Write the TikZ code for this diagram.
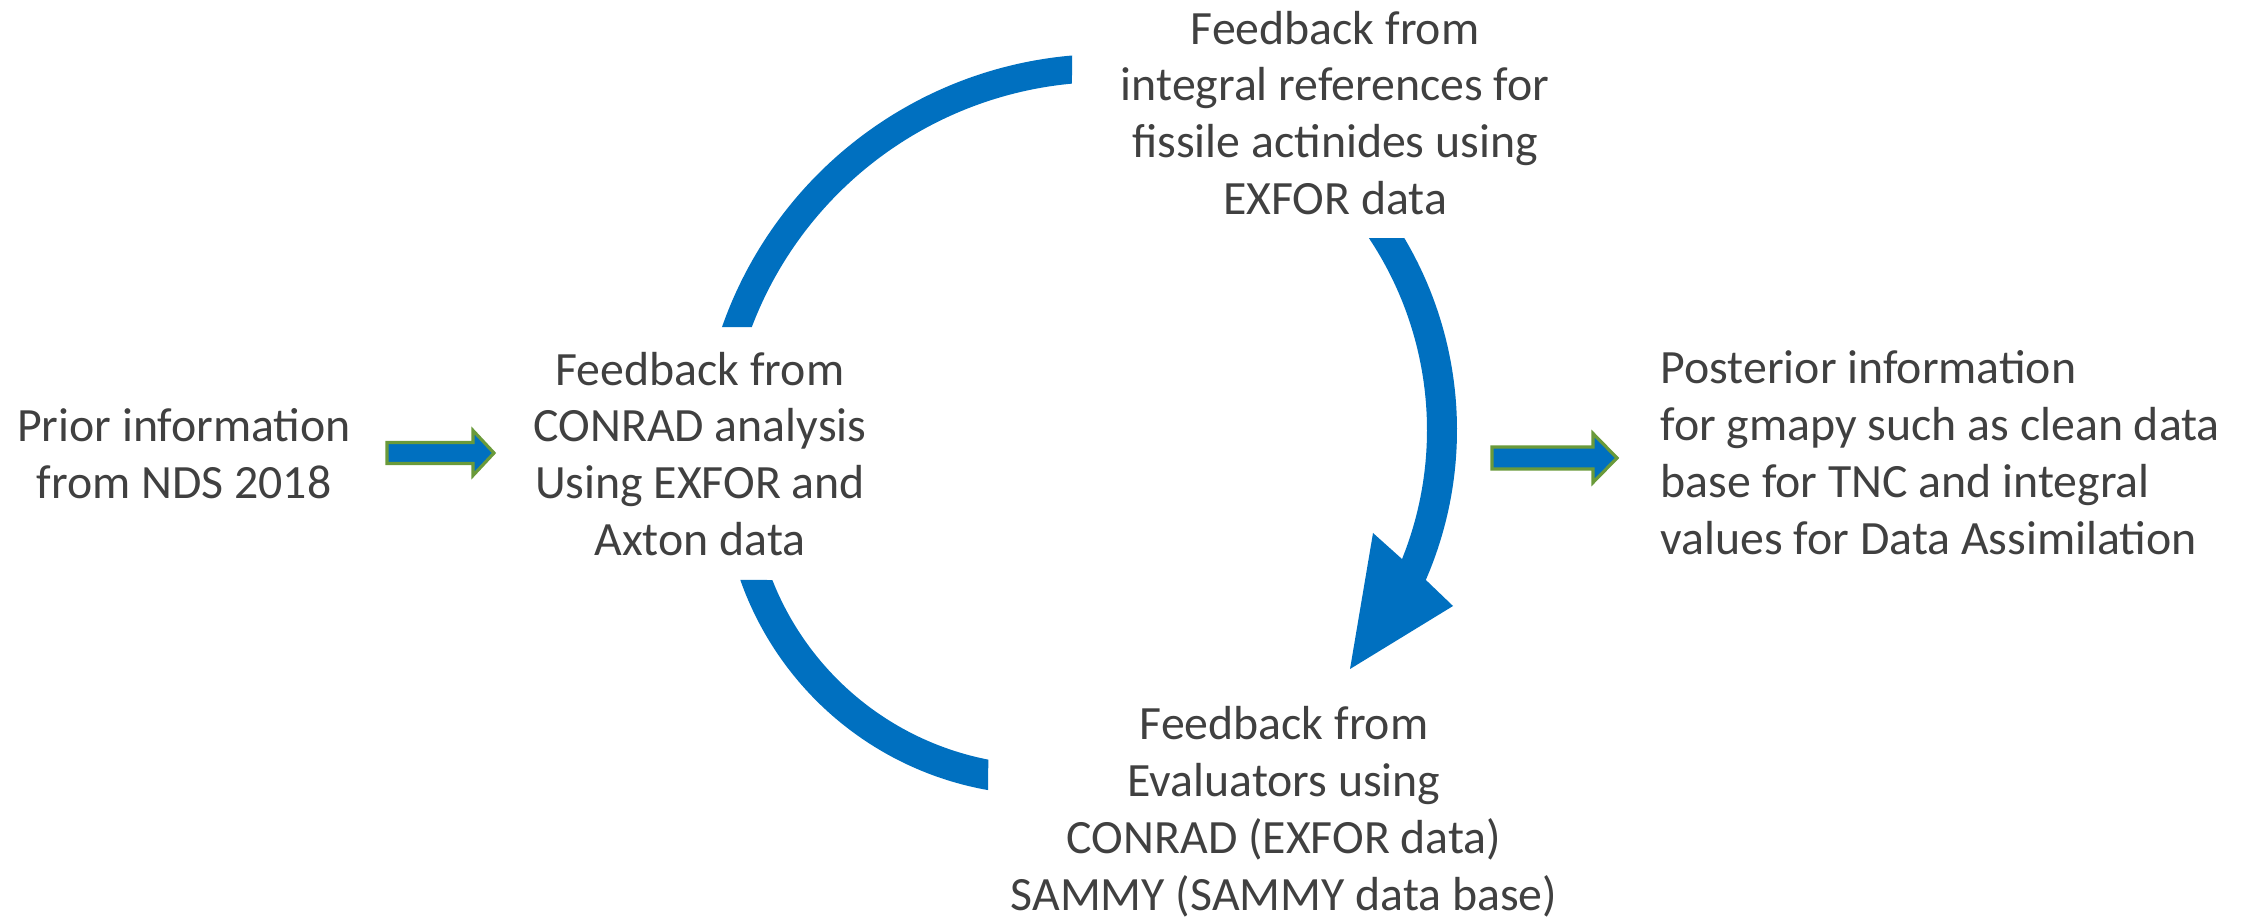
\documentclass[tikz,border=0pt]{standalone}
\usepackage{fontspec}
\setmainfont{Carlito}
\usepackage{xcolor}
\usepackage{tikz}
\definecolor{cycblue}{RGB}{0,112,192}
\definecolor{arrgreen}{RGB}{106,154,58}
\definecolor{txtgray}{RGB}{64,64,64}

\begin{document}
\begin{tikzpicture}[
  txt/.style={inner sep=0pt, align=center, text=txtgray,
              font=\fontsize{13.6pt}{16.2pt}\selectfont},
  band/.style={fill=cycblue, draw=none},
  fatarr/.style={fill=cycblue, draw=arrgreen, line width=0.9pt, line join=miter}
]
  \useasboundingbox (0,0) rectangle (22.5,-9.19);

  \node[txt] (prior) at (1.84,-4.535) {Prior information\\from NDS 2018};
  \node[txt] (conrad) at (7.00,-4.54) {Feedback from\\CONRAD analysis\\Using EXFOR and\\Axton data};
  \node[txt] (integral) at (13.35,-1.13) {Feedback from\\integral references for\\fissile actinides using\\EXFOR data};
  \node[txt] (evaluators) at (12.84,-8.12) {Feedback from\\Evaluators using\\CONRAD (EXFOR data)\\SAMMY (SAMMY data base)};
  \node[txt, align=left, anchor=west] (posterior) at (16.60,-4.53) {Posterior information\\for gmapy such as clean data\\base for TNC and integral\\values for Data Assimilation};

  % centres of the three bands
  \coordinate (c1) at (11.07,-4.62);
  \coordinate (c2) at (10.44,-4.73);
  \coordinate (c3) at (10.81,-4.30);

  % upper left band
  \fill[band] ([shift={(94.9:4.08)}]c1) arc[start angle=94.9, end angle=160.7, radius=4.08]
    -- ([shift={(159.2:3.80)}]c1) arc[start angle=159.2, end angle=95.3, radius=3.80] -- cycle;
  % lower left band
  \fill[band] ([shift={(199.4:3.22)}]c2) arc[start angle=199.4, end angle=260, radius=3.22]
    -- ([shift={(259:2.92)}]c2) arc[start angle=259, end angle=201.5, radius=2.92] -- cycle;
  % right band with its head
  \fill[band] ([shift={(30.7:3.76)}]c3) arc[start angle=30.7, end angle=-23.5, radius=3.76]
    -- (14.53,-6.06) -- (13.50,-6.69) -- (13.73,-5.33)
    -- ([shift={(-21.9:3.46)}]c3) arc[start angle=-21.9, end angle=33.7, radius=3.46] -- cycle;

  % side arrows
  \draw[fatarr] (3.87,-4.425) -- (4.73,-4.425) -- (4.73,-4.305) -- (4.94,-4.53)
    -- (4.73,-4.755) -- (4.73,-4.635) -- (3.87,-4.635) -- cycle;
  \draw[fatarr] (14.92,-4.47) -- (15.93,-4.47) -- (15.93,-4.335) -- (16.17,-4.58)
    -- (15.93,-4.825) -- (15.93,-4.69) -- (14.92,-4.69) -- cycle;
\end{tikzpicture}
\end{document}
